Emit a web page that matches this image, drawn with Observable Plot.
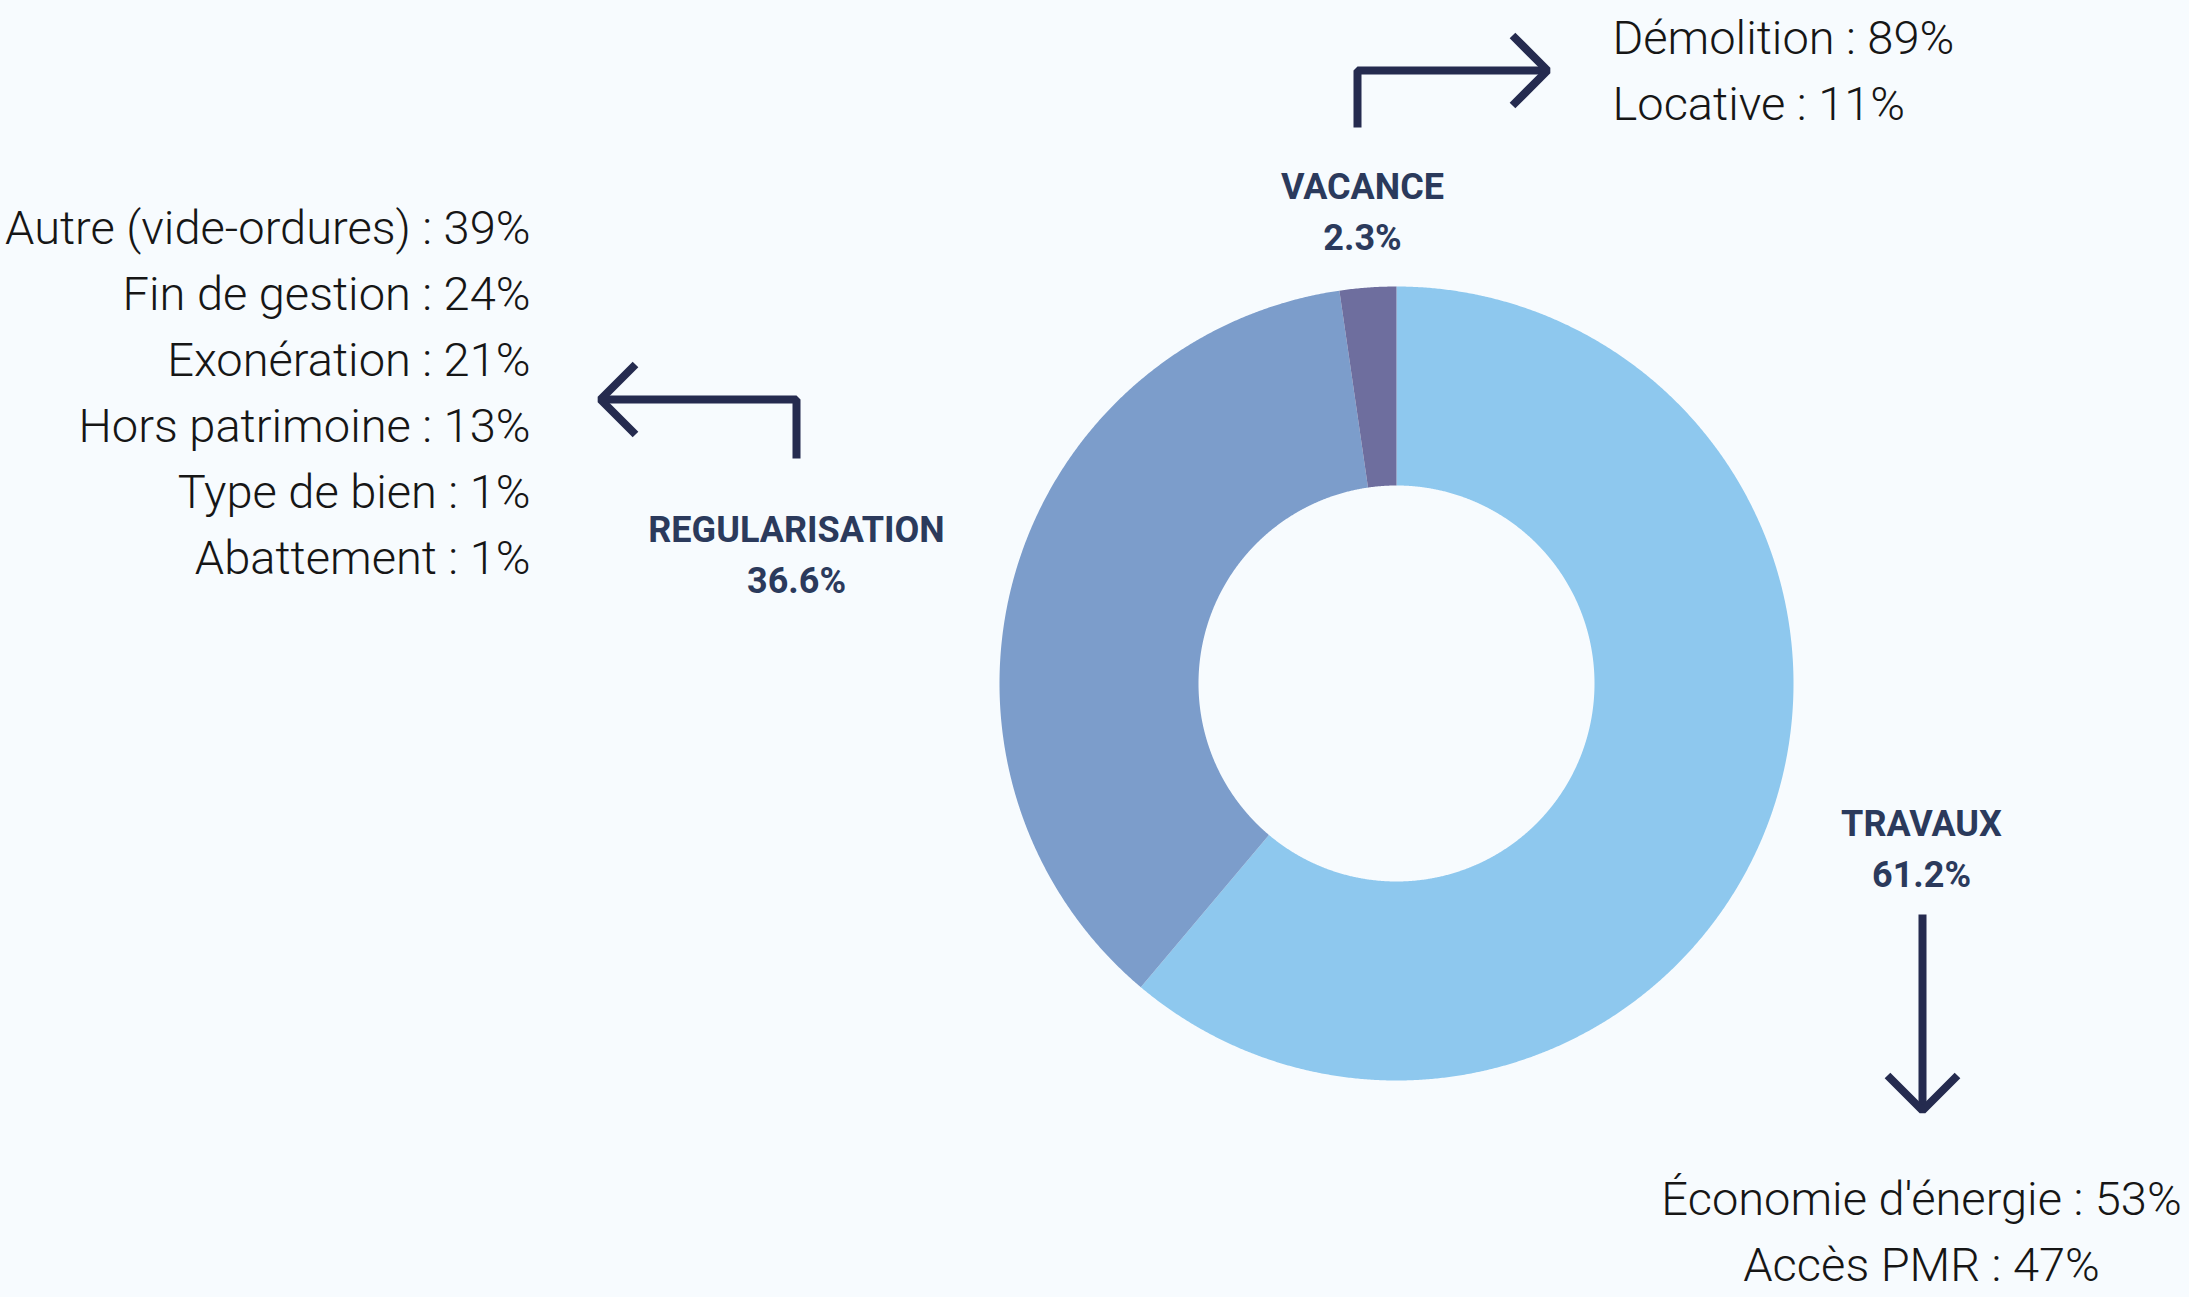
<!DOCTYPE html>
<html><head><meta charset="utf-8">
<script src="https://cdn.jsdelivr.net/npm/d3@7"></script>
<script src="https://cdn.jsdelivr.net/npm/@observablehq/plot@0.6"></script>
<style>html,body{margin:0;padding:0;background:#F7FBFE;overflow:hidden;}</style>
</head><body><div id="chart"></div>
<script>
// ---- data ----
const categories = ["TRAVAUX", "REGULARISATION", "VACANCE"];
const shares = [61.2, 36.6, 2.3];
const sliceColors = ["#8EC8EE", "#7C9DCB", "#6E6E9E"];
const vacanceDetails = ["Démolition : 89%", "Locative : 11%"];
const regularisationDetails = ["Autre (vide-ordures) : 39%", "Fin de gestion : 24%", "Exonération : 21%", "Hors patrimoine : 13%", "Type de bien : 1%", "Abattement : 1%"];
const travauxDetails = ["Économie d'énergie : 53%", "Accès PMR : 47%"];

// ---- layout ----
const W = 2189, H = 1297;
const cx = 1396, cy = 683, R = 397, r = 198;
const ink = "#252B4F", labelInk = "#2B3A5C", textInk = "#161616";
const lightFont = "Roboto", lightSize = 47, lineGap = 66;

// donut ring polygons (angles derived from shares, clockwise from top)
const total = d3.sum(shares);
const ring = [];
let acc = 0;
categories.forEach((c, i) => {
  const a0 = acc / total * 2 * Math.PI; acc += shares[i];
  const a1 = Math.min(acc / total, 1) * 2 * Math.PI;
  const n = Math.max(4, Math.ceil((a1 - a0) / (Math.PI / 720)));
  for (let k = 0; k <= n; k++) { const a = a0 + (a1 - a0) * k / n; ring.push({cat: c, x: cx + R * Math.sin(a), y: cy - R * Math.cos(a)}); }
  for (let k = n; k >= 0; k--) { const a = a0 + (a1 - a0) * k / n; ring.push({cat: c, x: cx + r * Math.sin(a), y: cy - r * Math.cos(a)}); }
});

// category label anchors
const labelPos = {TRAVAUX: [1921, 835], REGULARISATION: [796, 541], VACANCE: [1362, 198]};
const boldLabels = [];
categories.forEach((c, i) => {
  const [x, y] = labelPos[c];
  boldLabels.push({text: c, x, y});
  boldLabels.push({text: shares[i] + "%", x, y: y + 51});
});

const vacText = vacanceDetails.map((t, i) => ({text: t, x: 1612, y: 53 + i * lineGap}));
const regText = regularisationDetails.map((t, i) => ({text: t, x: 530, y: 243 + i * lineGap}));
const travText = travauxDetails.map((t, i) => ({text: t, x: 1921, y: 1214 + i * lineGap}));

// arrow annotations
const arrows = [
  {id: "v1", pts: [[1357, 127], [1357, 70], [1545, 70]]},
  {id: "v2", pts: [[1512, 35], [1547, 70], [1512, 105]]},
  {id: "r1", pts: [[796, 458], [796, 399], [602, 399]]},
  {id: "r2", pts: [[635, 364], [600, 399], [635, 434]]},
  {id: "t1", pts: [[1922, 914], [1922, 1108]]},
  {id: "t2", pts: [[1887, 1075], [1922, 1110], [1957, 1075]]}
].flatMap(a => a.pts.map(([x, y]) => ({id: a.id, x, y})));

const lightOpts = {fontFamily: lightFont, fontWeight: 300, fontSize: lightSize, fill: textInk, lineAnchor: "bottom"};

const chart = Plot.plot({
  width: W, height: H, margin: 0,
  x: {domain: [0, W], range: [0, W], axis: null},
  y: {domain: [0, H], range: [0, H], axis: null},
  color: {domain: categories, range: sliceColors},
  style: {background: "#F7FBFE"},
  marks: [
    Plot.line(ring, {x: "x", y: "y", z: "cat", fill: "cat", stroke: null, curve: "linear-closed"}),
    Plot.line(arrows, {x: "x", y: "y", z: "id", stroke: ink, strokeWidth: 8, strokeLinejoin: "miter", strokeLinecap: "butt", curve: "linear"}),
    Plot.text(boldLabels, {x: "x", y: "y", text: "text", fontFamily: "Roboto", fontWeight: 700, fontSize: 36, fill: labelInk, textAnchor: "middle", lineAnchor: "bottom"}),
    Plot.text(vacText, {x: "x", y: "y", text: "text", textAnchor: "start", ...lightOpts}),
    Plot.text(regText, {x: "x", y: "y", text: "text", textAnchor: "end", ...lightOpts}),
    Plot.text(travText, {x: "x", y: "y", text: "text", textAnchor: "middle", ...lightOpts})
  ]
});
document.getElementById("chart").appendChild(chart);
</script>
</body></html>
